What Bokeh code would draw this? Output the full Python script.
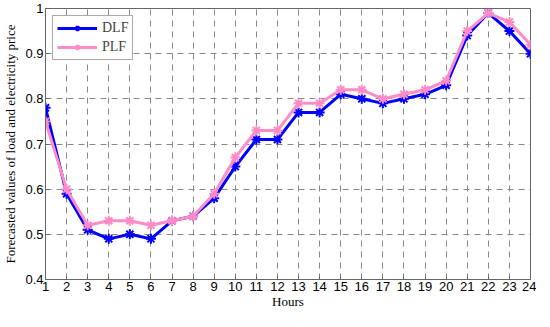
from bokeh.plotting import figure
from bokeh.models import ColumnDataSource, Legend, LegendItem, FixedTicker, CustomJSTickFormatter
from bokeh.embed import file_html
from bokeh.resources import INLINE

hours = list(range(1, 25))
dlf = [0.78, 0.59, 0.51, 0.49, 0.50, 0.49, 0.53, 0.54, 0.58, 0.65, 0.71, 0.71,
       0.77, 0.77, 0.81, 0.80, 0.79, 0.80, 0.81, 0.83, 0.94, 0.99, 0.95, 0.90]
plf = [0.75, 0.60, 0.52, 0.53, 0.53, 0.52, 0.53, 0.54, 0.59, 0.67, 0.73, 0.73,
       0.79, 0.79, 0.82, 0.82, 0.80, 0.81, 0.82, 0.84, 0.95, 0.99, 0.97, 0.92]
y_ticks = [0.4, 0.5, 0.6, 0.7, 0.8, 0.9, 1.0]

BLUE = "#0000FF"
PINK = "#FF8CC6"

p = figure(width=536, height=311, output_backend="svg", toolbar_location=None,
           x_range=(1, 24), y_range=(0.4, 1.0),
           min_border_left=38, min_border_right=6, min_border_top=8, min_border_bottom=0)

src = ColumnDataSource(dict(h=hours, dlf=dlf, plf=plf))
l1 = p.line("h", "dlf", source=src, color=BLUE, line_width=3)
m1 = p.scatter("h", "dlf", source=src, marker="asterisk", size=10, line_color=BLUE, line_width=2)
l2 = p.line("h", "plf", source=src, color=PINK, line_width=3)
m2 = p.scatter("h", "plf", source=src, marker="asterisk", size=10, line_color=PINK, line_width=2)

p.xaxis.ticker = FixedTicker(ticks=hours)
p.yaxis.ticker = FixedTicker(ticks=y_ticks)
p.yaxis.formatter = CustomJSTickFormatter(code="return tick >= 0.999 ? '1' : tick.toFixed(1);")

for ax in (p.xaxis[0], p.yaxis[0]):
    ax.major_label_text_font = "Liberation Sans"
    ax.major_label_text_font_size = "13px"
    ax.major_label_text_color = "#000000"
    ax.axis_label_text_font = "Liberation Serif"
    ax.axis_label_text_font_size = "13px"
    ax.axis_label_text_font_style = "normal"
    ax.axis_label_text_color = "#000000"
    ax.axis_line_color = "#666666"
    ax.major_tick_line_color = "#666666"
    ax.major_tick_in = 4
    ax.major_tick_out = 0
    ax.minor_tick_line_color = None
    ax.major_label_standoff = 2

p.xaxis.axis_label = "Hours"
p.yaxis.axis_label = "Forecasted values of load and electricity price"
p.xaxis.axis_label_standoff = 0
p.yaxis.axis_label_standoff = 4

p.outline_line_color = "#666666"
p.outline_line_width = 1
p.xgrid.grid_line_color = "#888888"
p.ygrid.grid_line_color = "#888888"
p.xgrid.grid_line_dash = "6 5"
p.ygrid.grid_line_dash = "6 5"
p.xgrid.grid_line_width = 1
p.ygrid.grid_line_width = 1

legend = Legend(items=[LegendItem(label="DLF", renderers=[l1, m1]),
                       LegendItem(label="PLF", renderers=[l2, m2])],
                location="top_left", label_text_font="Liberation Serif",
                label_text_font_size="14px", glyph_width=40, glyph_height=14,
                spacing=3, padding=4, margin=7, label_standoff=5,
                border_line_color="#555555", border_line_width=1,
                background_fill_color="white", background_fill_alpha=1)
p.add_layout(legend)

open("out.html", "w").write(file_html(p, INLINE))
